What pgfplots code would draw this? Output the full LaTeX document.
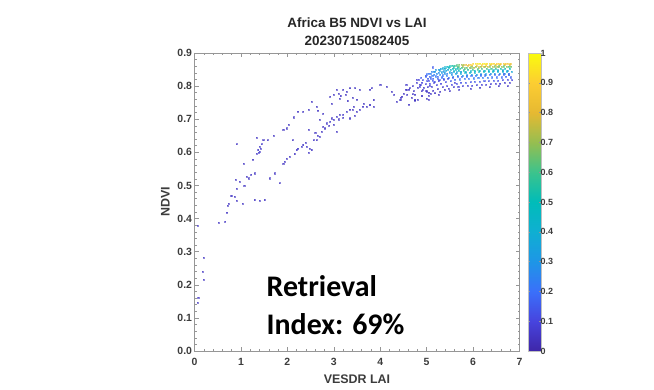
\documentclass[border=0pt]{standalone}
\usepackage{pgfplots}
\pgfplotsset{compat=1.18}
\usepackage{fontspec}
\setmainfont{Liberation Sans}
\newfontfamily\calib{Carlito}
\definecolor{tickgray}{RGB}{60,60,60}
\definecolor{axgray}{RGB}{150,150,150}
\pgfplotsset{colormap={parulaish}{
 rgb255(0)=(62,38,168) rgb255(1)=(71,68,222) rgb255(2)=(58,112,250) rgb255(3)=(30,150,230)
 rgb255(4)=(15,175,210) rgb255(5)=(0,188,185) rgb255(6)=(60,195,140) rgb255(7)=(150,190,80)
 rgb255(8)=(230,185,50) rgb255(9)=(252,205,50) rgb255(10)=(249,251,14)}}
\pgfplotstableread{
x y c
0.07 0.146 0.05
0.08 0.161 0.05
0.19 0.215 0.05
0.17 0.240 0.05
0.20 0.282 0.05
0.07 0.378 0.05
0.52 0.388 0.05
0.66 0.390 0.05
0.70 0.418 0.05
0.73 0.446 0.05
0.72 0.440 0.05
0.79 0.468 0.05
0.86 0.466 0.05
0.91 0.454 0.05
1.03 0.446 0.05
1.07 0.500 0.05
0.89 0.517 0.05
0.91 0.491 0.05
0.97 0.512 0.05
0.90 0.625 0.05
1.12 0.527 0.05
1.17 0.522 0.05
1.22 0.532 0.05
1.30 0.537 0.05
1.06 0.565 0.05
1.26 0.577 0.05
1.33 0.597 0.06
1.37 0.607 0.06
1.40 0.617 0.06
1.44 0.625 0.06
1.40 0.602 0.06
1.48 0.637 0.05
1.42 0.612 0.06
1.38 0.600 0.06
1.33 0.645 0.05
1.58 0.637 0.05
1.71 0.651 0.05
1.91 0.668 0.05
1.98 0.673 0.05
2.02 0.683 0.05
2.14 0.706 0.05
2.23 0.723 0.05
2.34 0.723 0.05
2.45 0.728 0.05
2.52 0.753 0.05
2.63 0.738 0.05
2.66 0.726 0.05
2.92 0.768 0.05
2.95 0.748 0.05
3.06 0.789 0.05
3.10 0.778 0.05
3.13 0.763 0.05
3.20 0.789 0.05
3.28 0.783 0.05
3.35 0.794 0.05
3.46 0.794 0.05
3.56 0.789 0.05
3.78 0.789 0.05
3.82 0.794 0.05
4.14 0.799 0.05
1.30 0.456 0.05
1.40 0.454 0.05
1.51 0.456 0.05
1.62 0.522 0.05
1.73 0.537 0.05
1.84 0.507 0.05
1.91 0.567 0.05
1.98 0.582 0.05
1.94 0.572 0.05
2.05 0.587 0.05
2.20 0.607 0.06
2.23 0.612 0.06
2.30 0.617 0.06
2.34 0.622 0.06
2.41 0.617 0.06
2.48 0.612 0.05
2.52 0.607 0.05
2.63 0.637 0.05
2.70 0.648 0.05
2.74 0.663 0.05
2.77 0.678 0.05
2.84 0.688 0.06
2.92 0.693 0.06
2.99 0.698 0.06
3.06 0.708 0.06
3.13 0.713 0.06
3.20 0.713 0.06
3.28 0.723 0.06
3.35 0.728 0.05
3.42 0.738 0.05
3.49 0.723 0.05
3.35 0.703 0.05
3.64 0.748 0.05
3.71 0.738 0.05
3.78 0.743 0.05
2.12 0.637 0.05
2.45 0.668 0.05
2.95 0.703 0.05
2.99 0.683 0.05
2.56 0.637 0.05
2.81 0.673 0.05
3.06 0.663 0.05
2.77 0.718 0.05
2.70 0.698 0.05
3.00 0.775 0.05
3.15 0.770 0.05
3.25 0.775 0.05
3.40 0.765 0.05
3.50 0.760 0.05
3.30 0.755 0.05
2.60 0.660 0.05
2.90 0.680 0.05
3.10 0.700 0.05
3.20 0.705 0.05
3.45 0.710 0.05
3.55 0.730 0.05
2.40 0.630 0.05
2.45 0.600 0.05
2.15 0.595 0.05
2.65 0.650 0.05
4.25 0.783 0.05
4.50 0.778 0.05
4.54 0.789 0.05
4.64 0.794 0.05
4.79 0.819 0.08
3.41 0.728 0.05
3.63 0.738 0.05
3.85 0.738 0.05
3.85 0.758 0.05
4.36 0.753 0.05
4.43 0.758 0.05
4.47 0.768 0.05
4.75 0.758 0.05
5.00 0.763 0.05
4.44 0.766 0.05
4.56 0.804 0.06
4.57 0.789 0.05
4.70 0.776 0.06
4.75 0.756 0.05
4.85 0.799 0.08
4.92 0.789 0.08
4.97 0.831 0.12
5.00 0.783 0.06
5.04 0.760 0.05
5.08 0.778 0.06
5.13 0.857 0.15
4.00 0.805 0.05
4.62 0.790 0.05
4.70 0.800 0.06
4.72 0.785 0.05
4.78 0.810 0.07
4.80 0.795 0.06
4.83 0.820 0.09
4.85 0.805 0.08
4.75 0.775 0.05
4.68 0.765 0.05
4.58 0.775 0.05
4.30 0.775 0.05
4.62 0.745 0.05
4.80 0.760 0.05
4.90 0.770 0.05
5.05 0.780 0.05
5.25 0.775 0.05
5.50 0.785 0.05
5.70 0.790 0.05
5.95 0.792 0.05
6.15 0.795 0.05
6.35 0.797 0.05
6.55 0.800 0.05
6.75 0.800 0.05
5.60 0.810 0.07
4.88 0.825 0.15
4.92 0.818 0.12
4.90 0.810 0.10
4.87 0.803 0.08
4.93 0.795 0.06
4.89 0.785 0.05
5.00 0.836 0.20
4.98 0.829 0.18
5.03 0.822 0.15
5.01 0.815 0.12
4.97 0.806 0.10
5.02 0.797 0.07
4.99 0.786 0.05
5.04 0.772 0.05
5.10 0.843 0.25
5.08 0.837 0.24
5.12 0.831 0.22
5.09 0.824 0.18
5.13 0.816 0.14
5.07 0.808 0.11
5.11 0.798 0.08
5.14 0.787 0.05
5.20 0.849 0.30
5.18 0.843 0.30
5.22 0.837 0.27
5.19 0.830 0.22
5.23 0.822 0.17
5.17 0.813 0.13
5.21 0.803 0.09
5.24 0.791 0.06
5.18 0.779 0.05
5.30 0.853 0.36
5.28 0.848 0.35
5.32 0.842 0.32
5.29 0.835 0.27
5.33 0.827 0.21
5.27 0.818 0.15
5.31 0.808 0.10
5.34 0.797 0.07
5.29 0.784 0.05
5.40 0.857 0.42
5.38 0.852 0.40
5.42 0.846 0.36
5.39 0.839 0.30
5.43 0.831 0.24
5.37 0.822 0.18
5.41 0.812 0.12
5.44 0.800 0.08
5.38 0.790 0.05
5.50 0.860 0.50
5.48 0.855 0.48
5.52 0.849 0.43
5.49 0.842 0.36
5.53 0.834 0.29
5.47 0.825 0.22
5.51 0.815 0.15
5.54 0.804 0.10
5.48 0.793 0.06
5.60 0.862 0.58
5.58 0.857 0.56
5.62 0.851 0.50
5.59 0.845 0.42
5.63 0.837 0.34
5.57 0.829 0.26
5.61 0.819 0.18
5.64 0.808 0.12
5.58 0.797 0.07
5.70 0.864 0.66
5.68 0.859 0.64
5.72 0.853 0.58
5.69 0.847 0.49
5.73 0.839 0.38
5.67 0.831 0.29
5.71 0.821 0.20
5.74 0.810 0.13
5.68 0.799 0.08
5.80 0.865 0.76
5.78 0.860 0.73
5.82 0.854 0.65
5.79 0.848 0.54
5.83 0.840 0.42
5.77 0.832 0.31
5.81 0.822 0.21
5.84 0.811 0.14
5.78 0.800 0.08
5.90 0.866 0.85
5.88 0.861 0.81
5.92 0.855 0.71
5.89 0.849 0.57
5.93 0.841 0.44
5.87 0.833 0.33
5.91 0.823 0.22
5.94 0.812 0.14
5.88 0.801 0.08
6.00 0.867 0.92
5.98 0.862 0.86
6.02 0.856 0.74
5.99 0.850 0.60
6.03 0.842 0.46
5.97 0.834 0.34
6.01 0.824 0.22
6.04 0.813 0.14
5.98 0.802 0.08
6.10 0.867 0.95
6.08 0.862 0.88
6.12 0.857 0.76
6.09 0.851 0.61
6.13 0.843 0.47
6.07 0.835 0.34
6.11 0.825 0.22
6.14 0.814 0.14
6.08 0.803 0.08
6.20 0.868 0.96
6.18 0.863 0.90
6.22 0.858 0.77
6.19 0.852 0.62
6.23 0.844 0.48
6.17 0.836 0.35
6.21 0.826 0.23
6.24 0.815 0.14
6.18 0.804 0.08
6.30 0.868 0.95
6.28 0.863 0.90
6.32 0.858 0.76
6.29 0.852 0.61
6.33 0.844 0.47
6.27 0.836 0.34
6.31 0.826 0.22
6.34 0.815 0.13
6.28 0.805 0.08
6.40 0.868 0.93
6.38 0.864 0.88
6.42 0.859 0.74
6.39 0.853 0.60
6.43 0.845 0.46
6.37 0.837 0.33
6.41 0.827 0.21
6.44 0.816 0.13
6.38 0.806 0.07
6.50 0.869 0.91
6.48 0.864 0.86
6.52 0.859 0.72
6.49 0.853 0.57
6.53 0.845 0.44
6.47 0.837 0.31
6.51 0.827 0.20
6.54 0.817 0.12
6.48 0.807 0.07
6.60 0.869 0.89
6.58 0.864 0.84
6.62 0.859 0.70
6.59 0.853 0.55
6.63 0.845 0.42
6.57 0.837 0.30
6.61 0.827 0.19
6.64 0.818 0.12
6.58 0.808 0.07
6.70 0.869 0.87
6.68 0.864 0.82
6.72 0.859 0.68
6.69 0.853 0.52
6.73 0.845 0.40
6.67 0.837 0.28
6.71 0.828 0.18
6.74 0.819 0.11
6.68 0.810 0.06
6.80 0.868 0.84
6.78 0.863 0.79
6.82 0.858 0.64
6.79 0.852 0.49
6.83 0.844 0.37
6.77 0.836 0.26
6.81 0.827 0.16
6.84 0.818 0.10
6.78 0.810 0.06
5.05 0.838 0.22
5.06 0.828 0.17
5.04 0.816 0.11
5.06 0.802 0.06
5.15 0.844 0.28
5.16 0.835 0.22
5.14 0.823 0.15
5.16 0.810 0.08
5.25 0.850 0.33
5.26 0.841 0.27
5.24 0.829 0.18
5.26 0.815 0.09
5.35 0.854 0.38
5.36 0.845 0.32
5.34 0.833 0.22
5.36 0.819 0.11
5.45 0.858 0.46
5.46 0.849 0.38
5.44 0.837 0.25
5.46 0.823 0.13
5.55 0.861 0.54
5.56 0.852 0.45
5.54 0.840 0.30
5.56 0.826 0.15
5.65 0.863 0.62
5.66 0.854 0.52
5.64 0.842 0.34
5.66 0.828 0.17
5.75 0.864 0.71
5.76 0.855 0.58
5.74 0.843 0.37
5.76 0.829 0.18
5.85 0.865 0.81
5.86 0.856 0.63
5.84 0.844 0.40
5.86 0.830 0.19
5.95 0.866 0.89
5.96 0.857 0.67
5.94 0.845 0.42
5.96 0.831 0.20
6.05 0.867 0.94
6.06 0.858 0.69
6.04 0.846 0.43
6.06 0.832 0.20
6.15 0.868 0.97
6.16 0.859 0.70
6.14 0.847 0.44
6.16 0.833 0.20
6.25 0.868 0.96
6.26 0.859 0.70
6.24 0.847 0.44
6.26 0.833 0.20
6.35 0.868 0.94
6.36 0.860 0.69
6.34 0.848 0.43
6.36 0.834 0.20
6.45 0.869 0.92
6.46 0.860 0.67
6.44 0.848 0.41
6.46 0.834 0.19
6.55 0.869 0.90
6.56 0.860 0.65
6.54 0.848 0.39
6.56 0.835 0.18
6.65 0.869 0.88
6.66 0.860 0.63
6.64 0.848 0.37
6.66 0.836 0.17
6.75 0.869 0.86
6.76 0.859 0.60
6.74 0.847 0.35
6.76 0.836 0.16
}\scatterdata
\begin{document}
\begin{tikzpicture}[x=1bp,y=1bp]
\path (0bp,0bp) rectangle (654bp,390bp);
\begin{axis}[
  at={(194.5bp,39bp)}, anchor=south west,
  width=325bp, height=298bp, scale only axis,
  xmin=0, xmax=7, ymin=0, ymax=0.9,
  xtick={0,1,2,3,4,5,6,7},
  ytick={0,0.1,0.2,0.3,0.4,0.5,0.6,0.7,0.8,0.9},
  yticklabels={0.0,0.1,0.2,0.3,0.4,0.5,0.6,0.7,0.8,0.9},
  minor x tick num=4, minor y tick num=4,
  tick align=inside,
  major tick length=4bp, minor tick length=2bp,
  axis line style={axgray, line width=0.6bp},
  every tick/.style={axgray, line width=0.5bp},
  /pgf/number format/assume math mode=true,
  tick label style={font=\bfseries\fontsize{10.5}{11}\selectfont, text=tickgray},
  xticklabel style={yshift=-4bp},
  yticklabel style={xshift=1bp},
  xlabel={VESDR LAI}, ylabel={NDVI},
  label style={font=\bfseries\fontsize{12.5}{13}\selectfont, text=tickgray},
  xlabel style={yshift=-2bp},
  ylabel style={yshift=1bp},
  title={Africa B5 NDVI vs LAI\\20230715082405},
  title style={align=center, font=\bfseries\fontsize{13.5}{18}\selectfont, text=black!85, yshift=-2bp},
  colormap name=parulaish,
  point meta min=0, point meta max=1,
  colorbar,
  colorbar style={
    at={(parent axis.north east)}, anchor=north west,
    width=13bp, height=298bp, scale only axis,
    ytick={0,0.1,0.2,0.3,0.4,0.5,0.6,0.7,0.8,0.9,1},
    yticklabels={0,0.1,0.2,0.3,0.4,0.5,0.6,0.7,0.8,0.9,1},
    yticklabel style={font=\bfseries\fontsize{9}{9}\selectfont, text=tickgray, xshift=-4bp},
    axis line style={axgray!60, line width=0.4bp},
    major tick length=2bp,
    every tick/.style={axgray, line width=0.4bp},
  },
]
\addplot[scatter, only marks, mark=square*, mark size=0.55bp,
  scatter/use mapped color={draw=mapped color, fill=mapped color, opacity=0.6},
  point meta=explicit] table[x=x, y=y, meta=c] {\scatterdata};
\end{axis}
\node[anchor=base west, inner sep=0, font=\calib\bfseries\fontsize{30}{36}\selectfont] at (266.5bp,93.3bp) {Retrieval};
\node[anchor=base west, inner sep=0, font=\calib\bfseries\fontsize{30}{36}\selectfont] at (266.5bp,55.7bp) {Index: 69\%};
\end{tikzpicture}
\end{document}
